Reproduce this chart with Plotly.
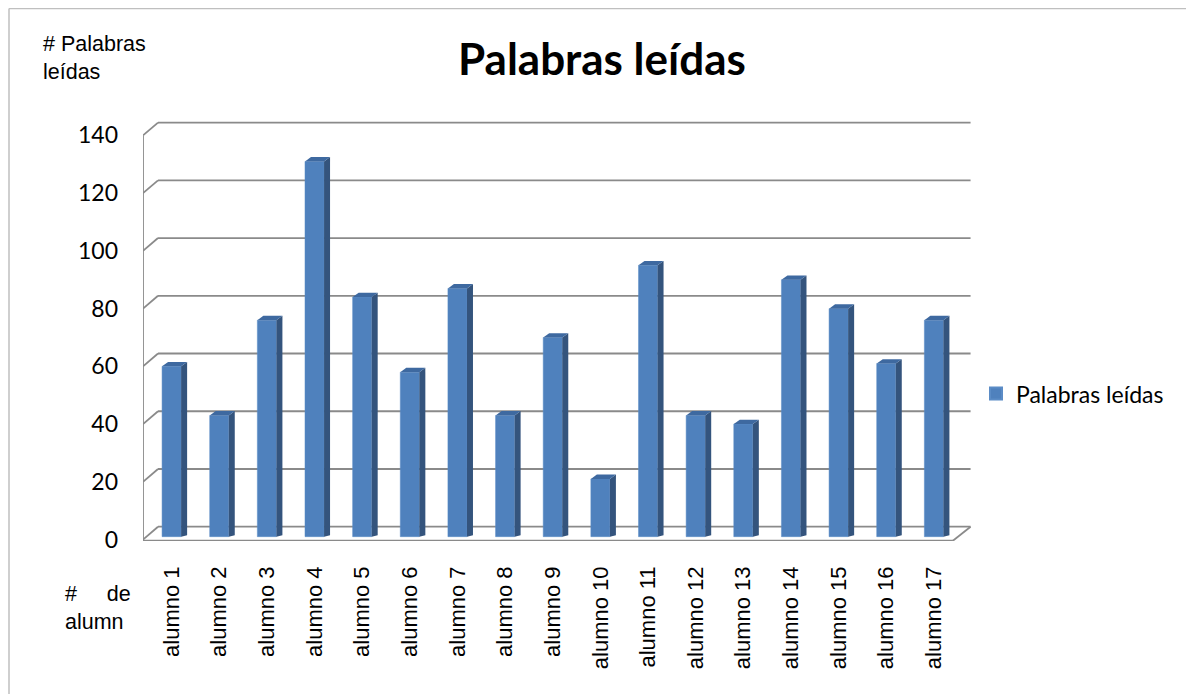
import plotly.graph_objects as go

categories = ["alumno %d" % i for i in range(1, 18)]
values = [59, 42, 75, 130, 83, 57, 86, 42, 69, 20, 94, 42, 39, 89, 79, 60, 75]
y_ticks = [0, 20, 40, 60, 80, 100, 120, 140]
series_name = "Palabras leídas"
chart_title = "Palabras leídas"

FRONT = "#4F81BD"
SIDE = "#34547D"
TOP = "#3E69A0"
GRID = "#8A8A8A"

W, H = 1194, 694
OFF = 8  # page body margin in the browser
# plot area edges, in page pixels of the reference
PL, PR, PT, PB = 143, 972, 121.4, 541.3
L, R, T, Bt = PL - OFF, PR - OFF, PT - OFF, PB - OFF
x_range = [-0.6, 16.8]
y_range = [-1.5, 144]

bar_w = 0.4
dx = 0.126   # depth offset in category units
dy = 1.5     # depth offset in value units
back_dx = 0.315
back_dy = 3.45
front_dy = -1.0

xs = list(range(len(categories)))

fig = go.Figure()
fig.add_trace(go.Bar(
    x=xs, y=values, width=bar_w, name=series_name,
    marker=dict(color=FRONT, line=dict(color="#5B8CC6", width=0.5)),
    showlegend=True,
))

shapes = []
x_left_front = x_range[0]
x_left_back = x_range[0] + back_dx
x_right_back = 16.77
floor_front_right = 16.4
for v in y_ticks:
    shapes.append(dict(type="line", xref="x", yref="y", layer="below",
                       x0=x_left_back, x1=x_right_back, y0=v + back_dy, y1=v + back_dy,
                       line=dict(color=GRID, width=1.8)))
    shapes.append(dict(type="line", xref="x", yref="y", layer="below",
                       x0=x_left_front, x1=x_left_back, y0=v + front_dy, y1=v + back_dy,
                       line=dict(color=GRID, width=1.8)))
shapes.append(dict(type="line", xref="x", yref="y", layer="below",
                   x0=x_left_front, x1=x_left_front, y0=front_dy - 0.4,
                   y1=y_ticks[-1] + front_dy, line=dict(color=GRID, width=1.8)))
shapes.append(dict(type="line", xref="x", yref="y", layer="below",
                   x0=x_left_front, x1=floor_front_right, y0=front_dy - 0.4, y1=front_dy - 0.4,
                   line=dict(color=GRID, width=1.8)))
shapes.append(dict(type="line", xref="x", yref="y", layer="below",
                   x0=floor_front_right, x1=x_right_back, y0=front_dy - 0.4, y1=back_dy,
                   line=dict(color=GRID, width=1.8)))

for x, v in zip(xs, values):
    xl = x - bar_w / 2
    xr = x + bar_w / 2
    side = f"M {xr},0 L {xr},{v} L {xr + dx},{v + dy} L {xr + dx},{dy * 0.3} Z"
    top = f"M {xl},{v} L {xr},{v} L {xr + dx},{v + dy} L {xl + dx},{v + dy} Z"
    shapes.append(dict(type="path", xref="x", yref="y", layer="above", path=side,
                       fillcolor=SIDE, line=dict(width=0)))
    shapes.append(dict(type="path", xref="x", yref="y", layer="above", path=top,
                       fillcolor=TOP, line=dict(width=0)))


def px_to_paper(px, py):
    """page pixel of the reference -> paper coords"""
    fx, fy = px - OFF, py - OFF
    return (fx - L) / (R - L), (Bt - fy) / (Bt - T)


# outer chart border (left & top), at the very figure edge
bx0, by0 = px_to_paper(OFF + 1, OFF + 1)
bx1, by1 = px_to_paper(OFF + W + 20, OFF + H + 20)
shapes.append(dict(type="line", xref="paper", yref="paper", x0=bx0, x1=bx0, y0=by1, y1=by0,
                   line=dict(color="#BFBFBF", width=1.5)))
shapes.append(dict(type="line", xref="paper", yref="paper", x0=bx0, x1=bx1, y0=by0, y1=by0,
                   line=dict(color="#BFBFBF", width=1.5)))

annotations = []
ax, ay = px_to_paper(41, 58)
annotations.append(dict(xref="paper", yref="paper", x=ax, y=ay, xanchor="left", yanchor="middle",
                        text="# Palabras<br>leídas", showarrow=False, align="left",
                        font=dict(family="Liberation Sans, Arial", size=21.5, color="#000000")))
ax, ay = px_to_paper(63, 608)
annotations.append(dict(xref="paper", yref="paper", x=ax, y=ay, xanchor="left", yanchor="middle",
                        text="#&nbsp;&nbsp;&nbsp;&nbsp;&nbsp;de<br>alumn", showarrow=False, align="left",
                        font=dict(family="Liberation Sans, Arial", size=21.5, color="#000000")))
tx, ty = px_to_paper(602, 58)
annotations.append(dict(xref="paper", yref="paper", x=tx, y=ty, xanchor="center", yanchor="middle",
                        text="<b>" + chart_title + "</b>", showarrow=False,
                        font=dict(family="Lato, Open Sans", size=44, color="#000000")))

lx, ly = px_to_paper(976, 394)

fig.update_layout(
    width=W, height=H,
    margin=dict(l=L, r=W - R, t=T, b=H - Bt, pad=0),
    paper_bgcolor="white", plot_bgcolor="rgba(0,0,0,0)",
    shapes=shapes, annotations=annotations,
    showlegend=True,
    legend=dict(x=lx, y=ly, xanchor="left", yanchor="middle",
                font=dict(family="Lato, Open Sans", size=23, color="#000000"),
                bgcolor="rgba(0,0,0,0)", itemsizing="constant"),
    xaxis=dict(range=x_range, tickmode="array", tickvals=xs, ticktext=categories,
               tickangle=-90, showgrid=False, zeroline=False, showline=False, ticks="",
               ticklabelstandoff=20,
               tickfont=dict(family="Liberation Sans, Arial", size=22, color="#000000")),
    yaxis=dict(range=y_range, tickmode="array", tickvals=[v + front_dy for v in y_ticks],
               ticktext=[str(v) for v in y_ticks], showgrid=False, zeroline=False,
               showline=False, ticks="", ticklabelstandoff=24,
               tickfont=dict(family="Lato, Open Sans", size=23, color="#000000")),
)

fig.write_html("out.html")
